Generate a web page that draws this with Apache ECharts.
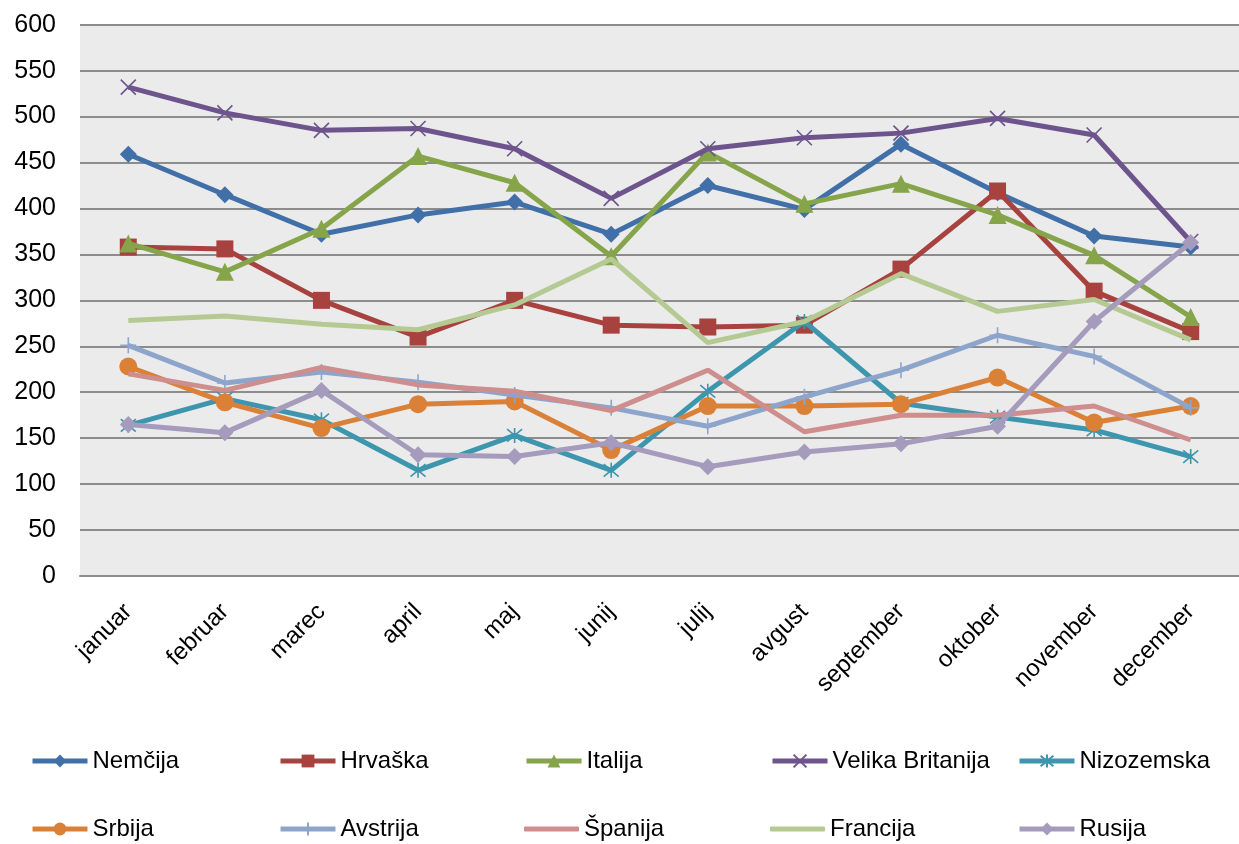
<!DOCTYPE html>
<html><head><meta charset="utf-8">
<script src="https://cdn.jsdelivr.net/npm/echarts@6/dist/echarts.min.js"></script>
<style>html,body{margin:0;padding:0;background:#fff}#c{width:1239px;height:844px}</style>
</head><body><div id="c"></div>
<script>
const categories = ['januar','februar','marec','april','maj','junij','julij','avgust','september','oktober','november','december'];
const nemcija    = [459, 415, 372, 393, 407, 372, 425, 399, 470, 417, 370, 358];
const hrvaska    = [358, 356, 300, 260, 300, 273, 271, 273, 334, 419, 310, 266];
const italija    = [362, 331, 378, 457, 428, 348, 461, 405, 427, 393, 349, 282];
const velikaBritanija = [532, 504, 485, 487, 465, 411, 465, 477, 482, 498, 480, 364];
const nizozemska = [164, 193, 170, 115, 153, 115, 201, 277, 188, 173, 159, 130];
const srbija     = [228, 189, 161, 187, 190, 137, 185, 185, 187, 216, 167, 185];
const avstrija   = [251, 210, 222, 211, 197, 183, 163, 195, 224, 262, 239, 183];
const spanija    = [220, 202, 227, 208, 201, 180, 224, 157, 175, 175, 185, 148];
const francija   = [278, 283, 274, 268, 295, 345, 254, 277, 329, 288, 301, 257];
const rusija     = [165, 156, 202, 132, 130, 145, 119, 135, 144, 163, 277, 363];
const seriesNames = ['Nemčija','Hrvaška','Italija','Velika Britanija','Nizozemska','Srbija','Avstrija','Španija','Francija','Rusija'];

const FONT = '"Liberation Sans", Arial, sans-serif';
const X_PATH = 'path://M0,0L10,10M0,10L10,0';
const AST_PATH = 'path://M0,0L10,10M0,10L10,0M5,-1L5,11';
const PLUS_PATH = 'path://M5,0L5,10M0,5L10,5';

const styles = [
  {data: nemcija, color:'#4170A8', symbol:'diamond', size:17},
  {data: hrvaska, color:'#A8423F', symbol:'rect', size:17},
  {data: italija, color:'#86A44A', symbol:'triangle', size:18},
  {data: velikaBritanija, color:'#6E548D', symbol:X_PATH, size:15, stroke:true},
  {data: nizozemska, color:'#3D96AE', symbol:AST_PATH, size:15, stroke:true},
  {data: srbija, color:'#DA8137', symbol:'circle', size:18},
  {data: avstrija, color:'#8EA5CB', symbol:PLUS_PATH, size:16, stroke:true},
  {data: spanija, color:'#CE8E8D', symbol:'none', size:0},
  {data: francija, color:'#B5CA92', symbol:'none', size:0},
  {data: rusija, color:'#A59BBD', symbol:'diamond', size:17}
];

const series = styles.map((s, i) => ({
  name: seriesNames[i],
  type: 'line',
  data: s.data,
  symbol: s.symbol,
  symbolSize: s.size,
  showSymbol: s.symbol !== 'none',
  lineStyle: {color: s.color, width: 5},
  itemStyle: s.stroke ? {color: s.color, borderColor: s.color, borderWidth: 1.6} : {color: s.color, borderWidth: 0},
  emphasis: {disabled: true},
  animation: false,
  z: 2 + i
}));

const colLeft = [30, 278, 524, 770, 1017];
const rowTop = [749, 817];
const legends = seriesNames.map((n, i) => {
  const noMarker = styles[i].symbol === 'none';
  return {
    data: noMarker ? [{name: n, icon: 'roundRect', itemStyle: {color: styles[i].color}}] : [n],
    left: colLeft[i % 5],
    top: rowTop[Math.floor(i / 5)],
    padding: 0,
    itemWidth: 55,
    itemHeight: noMarker ? 5 : 16,
    itemGap: 0,
    selectedMode: false,
    lineStyle: {width: 5},
    textStyle: {fontFamily: FONT, fontSize: 24, color: '#000', padding: [0,0,0,0]}
  };
});

const chart = echarts.init(document.getElementById('c'), null, {renderer: 'canvas'});
chart.setOption({
  animation: false,
  backgroundColor: '#fff',
  grid: {left: 80, right: -9, top: 24.7, bottom: 268, show: true, backgroundColor: '#EBEBEB', borderWidth: 0, containLabel: false},
  legend: legends,
  xAxis: {
    type: 'category', data: categories, boundaryGap: true,
    axisLine: {show: true, lineStyle: {color: '#8c8c8c', width: 2}},
    axisTick: {show: false},
    axisLabel: {rotate: 45, interval: 0, fontFamily: FONT, fontSize: 24, color: '#000', margin: 32, align: 'right', verticalAlign: 'middle'}
  },
  yAxis: {
    type: 'value', min: 0, max: 600, interval: 50,
    axisLine: {show: false}, axisTick: {show: false},
    splitLine: {show: true, lineStyle: {color: '#8c8c8c', width: 2}},
    axisLabel: {fontFamily: FONT, fontSize: 25, color: '#000', margin: 24}
  },
  series: series
});
</script></body></html>
